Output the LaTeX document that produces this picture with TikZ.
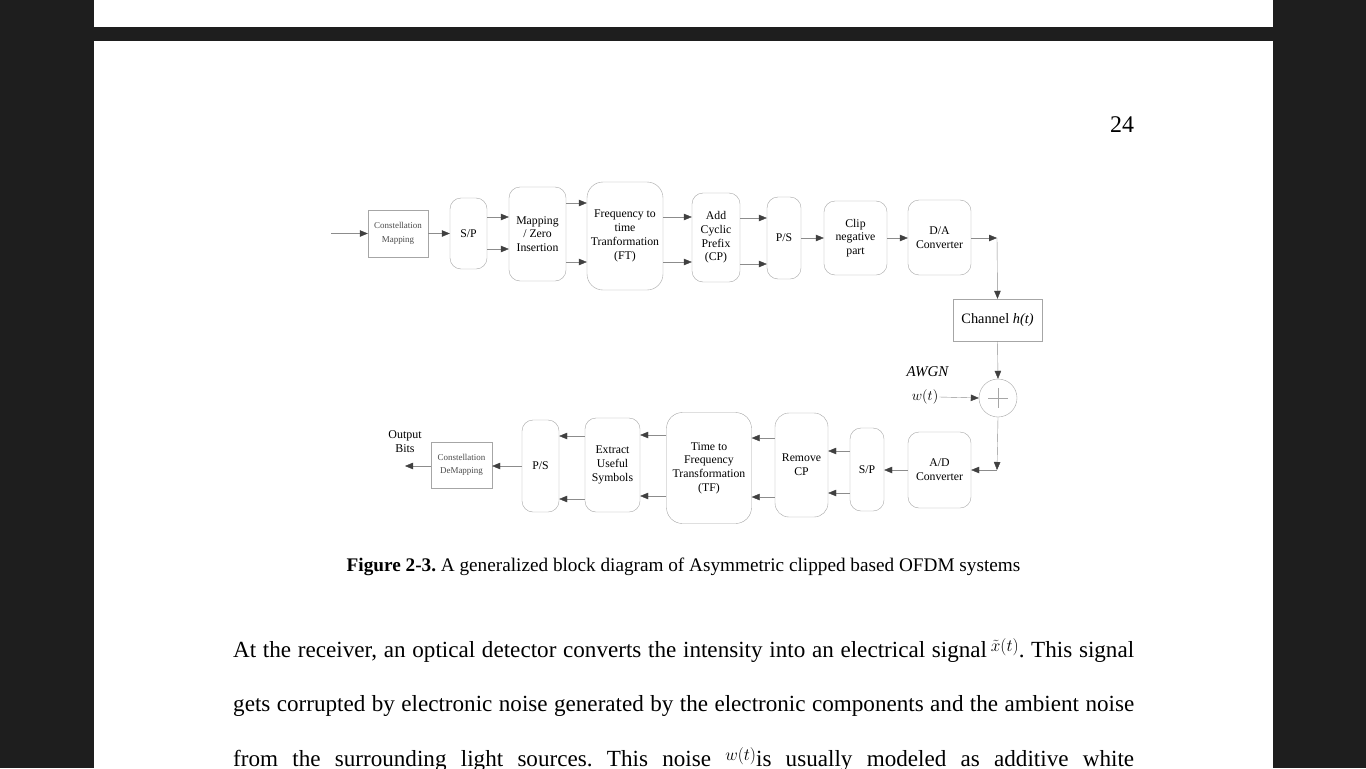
\documentclass[tikz,border=0pt]{standalone}
\usepackage{fontspec}
\setmainfont{Liberation Serif}
\usepackage{amsmath}
\usetikzlibrary{arrows.meta,calc,positioning}
\definecolor{bggray}{HTML}{1E1E1E}
\definecolor{boxgray}{HTML}{A6A6A6}
\definecolor{linegray}{HTML}{8C8C8C}
\definecolor{tipgray}{HTML}{404040}
\frenchspacing

\begin{document}
\begin{tikzpicture}[x=1bp,y=-1bp,
  blk/.style={draw=boxgray,rounded corners=11bp,align=center,inner sep=1bp,
    font=\fontsize{11.8}{13.8}\selectfont},
  sqblk/.style={draw=boxgray,align=center,inner sep=1bp},
  arr/.style={draw=linegray,-{Triangle[length=8bp,width=6.5bp,color=tipgray]}},
  ln/.style={draw=linegray}]
\fill[bggray] (0,0) rectangle (1366,768);
\fill[white] (94,0) rectangle (1273,27);
\fill[white] (94,41) rectangle (1273,768);
\node at (1122,125) {\fontsize{24}{24}\selectfont 24};

\node[sqblk,minimum width=60bp,minimum height=47bp,font=\fontsize{9}{13.5}\selectfont,text=black!70] (cmap) at (398,233.5) {Constellation\\Mapping};
\node[blk,minimum width=37bp,minimum height=71bp] (spa) at (468.5,233.5) {S/P};
\node[blk,minimum width=57bp,minimum height=94bp] (zmap) at (537.5,234) {Mapping\\/ Zero\\Insertion};
\node[blk,minimum width=76bp,minimum height=108bp,rounded corners=16bp] (ft) at (625,236) {Frequency to\\time\\Tranformation\\(FT)};
\node[blk,minimum width=48bp,minimum height=89bp] (acp) at (716,237.5) {Add\\Cyclic\\Prefix\\(CP)};
\node[blk,minimum width=34bp,minimum height=82bp] (psa) at (784,238) {P/S};
\node[blk,minimum width=63bp,minimum height=74bp] (clip) at (855.5,238) {Clip\\negative\\part};
\node[blk,minimum width=63bp,minimum height=75bp] (dac) at (939.5,237.5) {D/A\\Converter};
\node[sqblk,minimum width=89bp,minimum height=42bp,font=\fontsize{14.4}{15}\selectfont] (chan) at (997.5,320) {Channel \textit{h(t)}};
\node[circle,draw=boxgray,minimum size=38bp,inner sep=0pt] (sum) at (998,398) {};
\draw[boxgray] ($(sum.center)+(-10,0)$) -- ($(sum.center)+(10,0)$) ($(sum.center)+(0,-10)$) -- ($(sum.center)+(0,10)$);
\node[font=\fontsize{15}{15}\selectfont\itshape] (awgn) at (927.5,372) {AWGN};
\node[inner sep=1bp] (wt) at (925,397) {\fontsize{15}{15}\selectfont$w(t)$};
\node[blk,minimum width=63bp,minimum height=76bp] (adc) at (939.5,470) {A/D\\Converter};
\node[blk,minimum width=34bp,minimum height=83bp] (spb) at (867,469.5) {S/P};
\node[blk,minimum width=53bp,minimum height=104bp,rounded corners=14bp] (rcp) at (801.5,465) {Remove\\CP};
\node[blk,minimum width=85bp,minimum height=111bp,rounded corners=16bp] (tf) at (709,468) {Time to\\Frequency\\Transformation\\(TF)};
\node[blk,minimum width=55bp,minimum height=94bp] (ext) at (612.5,465) {Extract\\Useful\\Symbols};
\node[blk,minimum width=37bp,minimum height=92bp] (psb) at (540.5,466) {P/S};
\node[sqblk,minimum width=61bp,minimum height=46bp,font=\fontsize{9}{13.5}\selectfont,text=black!70] (cdm) at (461.5,465) {Constellation\\DeMapping};
\node[align=center,font=\fontsize{12}{14}\selectfont] (outlbl) at (405,442) {Output\\Bits};

\coordinate (in) at (331,233.5);
\coordinate (turna) at (997,238);
\coordinate (turnb) at (997,470);
\coordinate (outb) at (405,466);

\draw[arr] (in) -- (cmap.west);
\draw[arr] (cmap.east) -- (spa.west);
\foreach \yy in {217,249} \draw[arr] (spa.east |- 0,\yy) -- (zmap.west |- 0,\yy);
\foreach \yy in {203,262} \draw[arr] (zmap.east |- 0,\yy) -- (ft.west |- 0,\yy);
\foreach \yy in {217,262} \draw[arr] (ft.east |- 0,\yy) -- (acp.west |- 0,\yy);
\foreach \yy in {218,264} \draw[arr] (acp.east |- 0,\yy) -- (psa.west |- 0,\yy);
\draw[arr] (psa.east |- 0,238) -- (clip.west |- 0,238);
\draw[arr] (clip.east) -- (dac.west |- clip.east);
\draw[arr] (dac.east |- turna) -- (turna);
\draw[arr] (turna) -- (chan.north);
\draw[arr] (chan.south) -- (sum.north);
\draw[arr] (wt.east) -- (sum.west);
\draw[arr] (sum.south) -- (turnb);
\draw[arr] (turnb) -- (adc.east |- turnb);
\draw[arr] (adc.west |- turnb) -- (spb.east |- turnb);
\foreach \yy in {451,493} \draw[arr] (spb.west |- 0,\yy) -- (rcp.east |- 0,\yy);
\foreach \yy in {438,497} \draw[arr] (rcp.west |- 0,\yy) -- (tf.east |- 0,\yy);
\foreach \yy in {435,496} \draw[arr] (tf.west |- 0,\yy) -- (ext.east |- 0,\yy);
\foreach \yy in {436,499} \draw[arr] (ext.west |- 0,\yy) -- (psb.east |- 0,\yy);
\draw[arr] (psb.west |- outb) -- (cdm.east |- outb);
\draw[arr] (cdm.west |- outb) -- (outb);

\node (cap) at (683.5,567) {\fontsize{19.3}{20}\selectfont\textbf{Figure 2-3.} A generalized block diagram of Asymmetric clipped based OFDM systems};

\begin{scope}
\clip (94,41) rectangle (1273,768);
\node[anchor=base west,inner sep=0pt] (lna) at (233,657) {\fontsize{23.2}{24}\selectfont\makebox[901bp][s]{At the receiver, an optical detector converts the intensity into an electrical signal\,\raisebox{6bp}{\fontsize{16}{16}\selectfont$\tilde{x}(t)$}. This signal}};
\node[anchor=base west,inner sep=0pt] (lnb) at (233,711) {\fontsize{23.2}{24}\selectfont\makebox[901bp][s]{gets corrupted by electronic noise generated by the electronic components and the ambient noise}};
\node[anchor=base west,inner sep=0pt] (lnc) at (233,766) {\fontsize{23.2}{24}\selectfont\makebox[901bp][s]{from the surrounding light sources. This noise \raisebox{6bp}{\fontsize{16}{16}\selectfont$w(t)$}is usually modeled as additive white}};
\end{scope}
\useasboundingbox (0,0) rectangle (1366,768);
\end{tikzpicture}
\end{document}
